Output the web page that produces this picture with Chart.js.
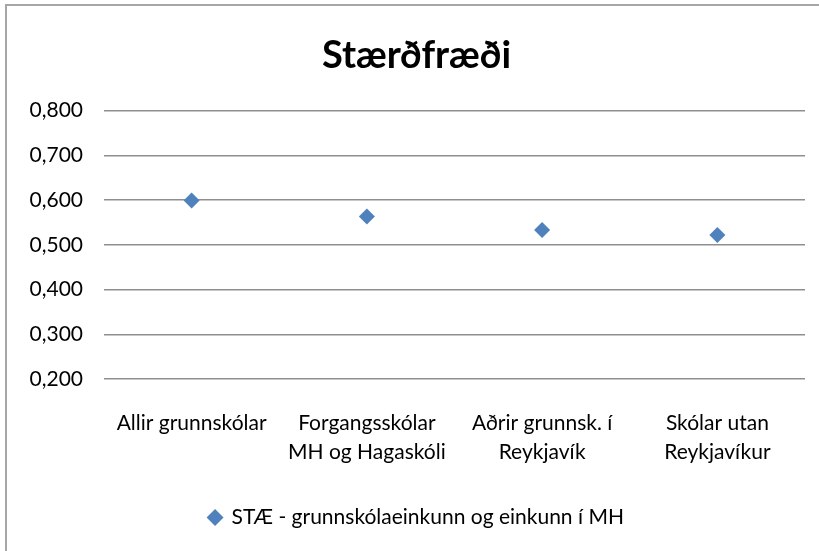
<!DOCTYPE html>
<html>
<head>
<meta charset="utf-8">
<script src="https://cdn.jsdelivr.net/npm/chart.js@4"></script>
<style>
  html, body { margin: 0; padding: 0; background: #fff; overflow: hidden; }
  #frame { position: absolute; left: 5px; top: 4px; width: 840px; height: 570px; border: 2px solid #a6a6a6; box-sizing: border-box; }
  #wrap { position: absolute; left: 0; top: 0; width: 819px; height: 551px; }
</style>
</head>
<body>
<div id="frame"></div>
<div id="wrap"><canvas id="c" width="819" height="551"></canvas></div>
<script>
const categories = [
  ["Allir grunnskólar"],
  ["Forgangsskólar", "MH og Hagaskóli"],
  ["Aðrir grunnsk. í", "Reykjavík"],
  ["Skólar utan", "Reykjavíkur"]
];
const seriesName = "STÆ - grunnskólaeinkunn og einkunn í MH";
const seriesValues = [0.599, 0.563, 0.533, 0.522];
const yTicks = [0.2, 0.3, 0.4, 0.5, 0.6, 0.7, 0.8];
const chartTitle = "Stærðfræði";

const FONT = "Lato, 'Open Sans', sans-serif";
const BLUE = "#4F81BD";

new Chart(document.getElementById("c"), {
  type: "line",
  data: {
    labels: categories,
    datasets: [{
      label: seriesName,
      data: seriesValues,
      showLine: false,
      pointStyle: "rectRot",
      pointRadius: 8,
      pointHoverRadius: 8,
      backgroundColor: BLUE,
      borderColor: BLUE,
      pointBorderWidth: 0
    }]
  },
  options: {
    responsive: false,
    animation: false,
    devicePixelRatio: 1,
    layout: { padding: { left: 28, right: 14, top: 28, bottom: 13 } },
    plugins: {
      title: {
        display: true,
        text: chartTitle,
        color: "#000",
        font: { family: FONT, size: 38, weight: "bold", lineHeight: 1.2 },
        padding: { top: 5, bottom: 32 }
      },
      legend: {
        display: true,
        position: "bottom",
        labels: {
          usePointStyle: true,
          pointStyle: "rectRot",
          boxWidth: 12,
          boxHeight: 12,
          color: "#000",
          font: { family: FONT, size: 21 },
          padding: 10
        }
      },
      tooltip: { enabled: false }
    },
    scales: {
      x: {
        offset: true,
        grid: { display: false, drawTicks: false },
        border: { display: false },
        ticks: {
          color: "#000",
          font: { family: FONT, size: 21, lineHeight: 1.38 },
          padding: 30,
          maxRotation: 0,
          autoSkip: false
        },
        afterFit(scale) { scale.height = 118; }
      },
      y: {
        min: 0.2,
        max: 0.8,
        afterBuildTicks(scale) { scale.ticks = yTicks.map(v => ({ value: v })); },
        grid: { color: "#8f8f8f", lineWidth: 1.5, drawTicks: false },
        border: { display: false },
        ticks: {
          color: "#000",
          font: { family: FONT, size: 21 },
          padding: 21,
          callback: v => v.toFixed(3).replace(".", ",")
        },
        afterFit(scale) { scale.width = 76; }
      }
    }
  }
});
</script>
</body>
</html>
